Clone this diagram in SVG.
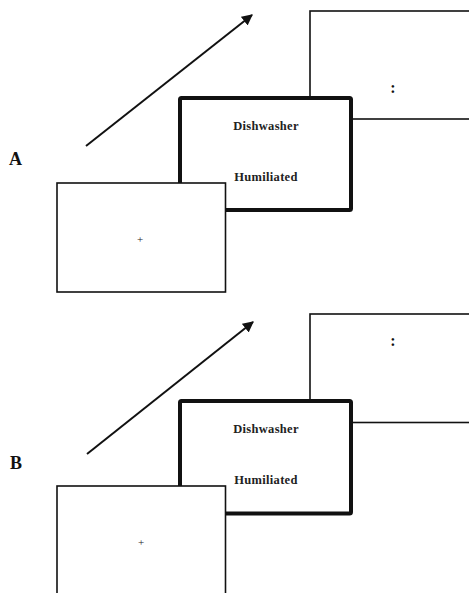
<svg xmlns="http://www.w3.org/2000/svg" width="469" height="593" viewBox="0 0 469 593">
<defs>
<style>
.thin{fill:#fff;stroke:#111;stroke-width:1.6}
.thick{fill:#fff;stroke:#111;stroke-width:4;stroke-linejoin:round}
.arr{stroke:#111;stroke-width:2;fill:none}
.lbl{font-family:"Liberation Serif","Times New Roman",serif;font-weight:bold;font-size:18px;fill:#111}
.word{font-family:"Liberation Serif","Times New Roman",serif;font-weight:bold;font-size:12.5px;fill:#222;text-anchor:middle;letter-spacing:0.3px}
.sym{font-family:"Liberation Serif","Times New Roman",serif;font-size:11px;fill:#222;text-anchor:middle}
.colon{font-family:"Liberation Serif","Times New Roman",serif;font-weight:bold;font-size:16px;fill:#111;text-anchor:middle}
</style>
<marker id="ah" viewBox="0 0 10 10" refX="9" refY="5" markerWidth="5.5" markerHeight="5.5" orient="auto">
<path d="M0,0 L10,5 L0,10 z" fill="#111"/>
</marker>
</defs>

<g id="panelA">
  <g id="labelA"><text class="lbl" x="9" y="165">A</text></g>
  <g id="connectorsA"><line class="arr" x1="86" y1="146" x2="252" y2="15" marker-end="url(#ah)"/></g>
  <g id="A-back"><rect class="thin" x="310" y="11" width="170" height="108"/><text class="colon" x="393" y="93">:</text></g>
  <g id="A-middle"><rect class="thick" x="180" y="98" width="171" height="112" rx="1.5"/>
    <text class="word" x="266" y="130">Dishwasher</text>
    <text class="word" x="266" y="181">Humiliated</text></g>
  <g id="A-front"><rect class="thin" x="57" y="183" width="168.5" height="109"/><text class="sym" x="140" y="243">+</text></g>
</g>

<g id="panelB">
  <g id="labelB"><text class="lbl" x="10" y="469">B</text></g>
  <g id="connectorsB"><line class="arr" x1="87" y1="454" x2="253" y2="322" marker-end="url(#ah)"/></g>
  <g id="B-back"><rect class="thin" x="310" y="314" width="170" height="108.5"/><text class="colon" x="393" y="346">:</text></g>
  <g id="B-middle"><rect class="thick" x="180" y="401" width="171" height="112.5" rx="1.5"/>
    <text class="word" x="266" y="433">Dishwasher</text>
    <text class="word" x="266" y="484">Humiliated</text></g>
  <g id="B-front"><rect class="thin" x="57" y="486" width="168.5" height="120"/><text class="sym" x="141" y="546">+</text></g>
</g>
</svg>
